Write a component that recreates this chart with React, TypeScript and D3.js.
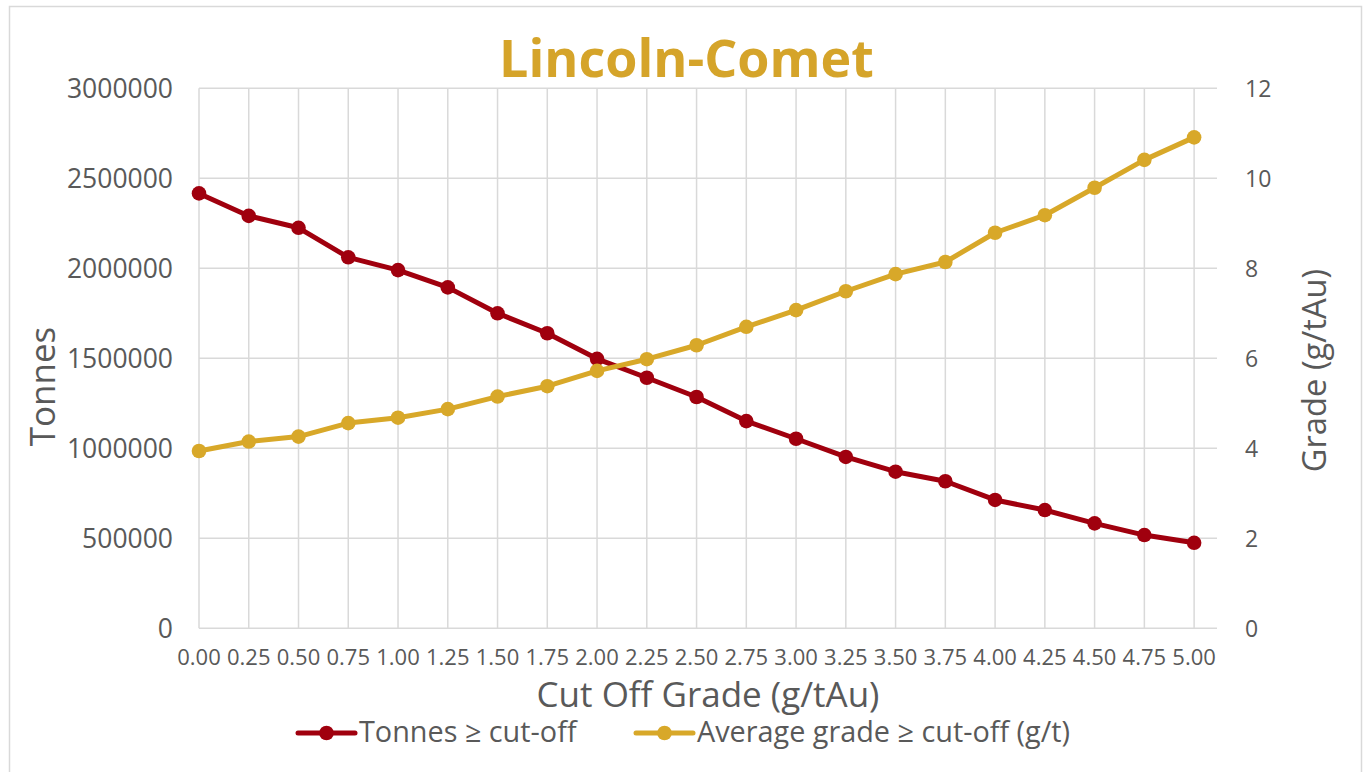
import React from "react";
import * as d3 from "d3";

const cutoffs = [0, 0.25, 0.5, 0.75, 1.0, 1.25, 1.5, 1.75, 2.0, 2.25, 2.5, 2.75, 3.0, 3.25, 3.5, 3.75, 4.0, 4.25, 4.5, 4.75, 5.0];
const tonnes = [2416000, 2291000, 2225000, 2061000, 1990000, 1894000, 1750000, 1639000, 1497000, 1392000, 1285000, 1151000, 1053000, 952000, 870000, 817000, 713000, 657000, 583000, 518000, 475000];
const grade = [3.94, 4.15, 4.26, 4.56, 4.68, 4.87, 5.15, 5.38, 5.72, 5.98, 6.29, 6.7, 7.07, 7.49, 7.87, 8.14, 8.79, 9.18, 9.79, 10.41, 10.91];
const leftTicks = [0, 500000, 1000000, 1500000, 2000000, 2500000, 3000000];
const rightTicks = [0, 2, 4, 6, 8, 10, 12];

const title = "Lincoln-Comet";
const xTitle = "Cut Off Grade (g/tAu)";
const yLeftTitle = "Tonnes";
const yRightTitle = "Grade (g/tAu)";
const seriesNames = ["Tonnes \u2265 cut-off", "Average grade \u2265 cut-off (g/t)"];

const RED = "#A0000E";
const GOLD = "#D8A829";
const GRID = "#D9D9D9";
const TEXT = "#595959";
const FONT = "'Open Sans', 'Noto Sans', sans-serif";

export default function App() {
  const W = 1364, H = 772;
  const left = 199, right = 1217, top = 88.3, bottom = 628.3;
  const x = d3.scaleLinear().domain([0, 5.115]).range([left, right]);
  const yL = d3.scaleLinear().domain([0, 3000000]).range([bottom, top]);
  const yR = d3.scaleLinear().domain([0, 12]).range([bottom, top]);

  const redLine = d3.line<number>().x((_, i) => x(cutoffs[i])).y((d) => yL(d))(tonnes) || "";
  const goldLine = d3.line<number>().x((_, i) => x(cutoffs[i])).y((d) => yR(d))(grade) || "";

  return (
    <svg width={W} height={H} style={{ position: "absolute", left: 0, top: 0, background: "#fff" }} fontFamily={FONT}>
      <rect x={9.5} y={6.5} width={1352} height={800} fill="#fff" stroke={GRID} strokeWidth={1.5} />
      {/* gridlines */}
      {leftTicks.map((t) => (
        <line key={"h" + t} x1={left} x2={right} y1={yL(t)} y2={yL(t)} stroke={GRID} strokeWidth={1.5} />
      ))}
      {cutoffs.map((c) => (
        <line key={"v" + c} x1={x(c)} x2={x(c)} y1={top} y2={bottom} stroke={GRID} strokeWidth={1.5} />
      ))}
      {/* left ticks */}
      {leftTicks.map((t) => (
        <text key={"lt" + t} x={173} y={yL(t) + 9.5} textAnchor="end" fontSize={26.5} fill={TEXT}>
          {d3.format("d")(t)}
        </text>
      ))}
      {rightTicks.map((t) => (
        <text key={"rt" + t} x={1245} y={yR(t) + 8.2} textAnchor="start" fontSize={23} fill={TEXT}>
          {t}
        </text>
      ))}
      {cutoffs.map((c) => (
        <text key={"xt" + c} x={x(c)} y={665} textAnchor="middle" fontSize={22} fill={TEXT}>
          {d3.format(".2f")(c)}
        </text>
      ))}
      {/* titles */}
      <text x={686.5} y={77} textAnchor="middle" fontSize={52} fontWeight={700} fill="#D5A42A">{title}</text>
      <text x={(left + right) / 2} y={707} textAnchor="middle" fontSize={35} fill={TEXT}>{xTitle}</text>
      <text transform={`translate(55,386.5) rotate(-90)`} textAnchor="middle" fontSize={35} fill={TEXT}>{yLeftTitle}</text>
      <text transform={`translate(1326,370.5) rotate(-90)`} textAnchor="middle" fontSize={32.7} fill={TEXT}>{yRightTitle}</text>
      {/* series */}
      <path d={redLine} fill="none" stroke={RED} strokeWidth={5} strokeLinejoin="round" />
      {tonnes.map((v, i) => (
        <circle key={"rc" + i} cx={x(cutoffs[i])} cy={yL(v)} r={7.3} fill={RED} />
      ))}
      <path d={goldLine} fill="none" stroke={GOLD} strokeWidth={5} strokeLinejoin="round" />
      {grade.map((v, i) => (
        <circle key={"gc" + i} cx={x(cutoffs[i])} cy={yR(v)} r={7.3} fill={GOLD} />
      ))}
      {/* legend */}
      <line x1={298} x2={355} y1={733} y2={733} stroke={RED} strokeWidth={5} strokeLinecap="round" />
      <circle cx={326.5} cy={733} r={7.3} fill={RED} />
      <text x={359} y={742} fontSize={28.8} fill={TEXT}>{seriesNames[0]}</text>
      <line x1={636} x2={693} y1={733} y2={733} stroke={GOLD} strokeWidth={5} strokeLinecap="round" />
      <circle cx={664.5} cy={733} r={7.3} fill={GOLD} />
      <text x={697} y={742} fontSize={28.8} fill={TEXT}>{seriesNames[1]}</text>
    </svg>
  );
}
